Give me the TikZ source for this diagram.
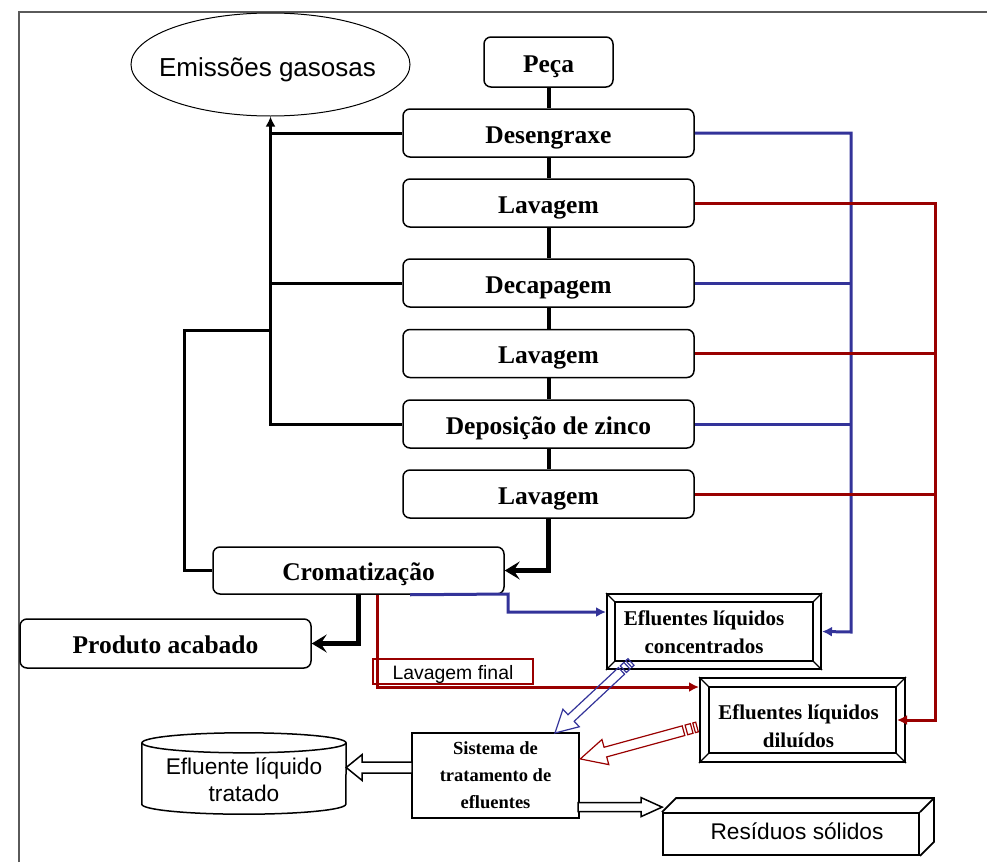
\documentclass[tikz,border=0pt]{standalone}
\usepackage{fontspec}
\setmainfont{Liberation Serif}
\newfontfamily\arialf{Liberation Sans}
\usetikzlibrary{arrows.meta,calc,shapes.geometric}
\definecolor{fblue}{HTML}{333399}
\definecolor{fred}{HTML}{990000}
\definecolor{fgray}{HTML}{5A5A5A}
\tikzset{
  proc/.style={draw, line width=1.5pt, rounded corners=7pt, minimum width=291pt,
    minimum height=48pt, inner sep=0pt, text height=20pt, text depth=0pt,
    font=\bfseries\fontsize{25.5}{28}\selectfont},
  flow/.style={line width=4pt},
  flowarr/.style={line width=5pt, -{Stealth[length=15pt,width=18pt,inset=6pt]}},
  gas/.style={line width=3pt},
  bl/.style={draw=fblue, line width=3pt},
  rd/.style={draw=fred, line width=3pt},
  tip/.style={-{Latex[length=10pt,width=10pt]}},
  bevel/.style={draw, line width=2pt, inner sep=0pt},
  serl/.style={align=center, inner sep=0pt, font=\bfseries\fontsize{21}{28}\selectfont},
  hollow/.style={draw, fill=white, line width=1.5pt, line join=miter},
}
\begin{document}
\begin{tikzpicture}[x=1pt,y=-1pt]
\useasboundingbox (0,0) rectangle (987,862);
% frame
\draw[fgray, line width=1.5pt] (19,862) -- (19,12) -- (987,12);

% nodes
\node[ellipse, draw, line width=1pt, minimum width=279pt, minimum height=103pt, inner sep=0pt] (emi) at (270.5,64.5) {};
\node[inner sep=0pt, text height=23pt, text depth=0pt, font=\arialf\fontsize{26}{30}\selectfont] (emit) at ($(emi.center)+(-3,0)$) {Emissões gasosas};
\node[proc, minimum width=129pt, minimum height=50pt] (pec) at (548.5,62) {Peça};
\node[proc] (des) at (548.5,133) {Desengraxe};
\node[proc] (lav1) at (548.5,203) {Lavagem};
\node[proc] (dec) at (548.5,283) {Decapagem};
\node[proc] (lav2) at (548.5,353.5) {Lavagem};
\node[proc] (dep) at (548.5,424) {Deposição de zinco};
\node[proc] (lav3) at (548.5,494) {Lavagem};
\node[proc, minimum height=47pt] (cro) at (358.5,570.5) {Cromatização};
\node[proc, minimum height=49pt] (pro) at (165.5,643.5) {Produto acabado};

% bevel boxes
\node[bevel, minimum width=214pt, minimum height=75pt] (concf) at (714,631.5) {};
\draw[line width=1.5pt] ($(concf.north west)+(9,9)$) rectangle ($(concf.south east)+(-9,-9)$);
\foreach \c/\dx/\dy in {north west/9/9, north east/-9/9, south west/9/-9, south east/-9/-9}
  \draw[line width=1.2pt] (concf.\c) -- ++(\dx,\dy);
\node[serl] (conc) at ($(concf.center)+(-10,1)$) {Efluentes líquidos\\concentrados};

\node[bevel, minimum width=205pt, minimum height=84pt] (dilf) at (802.5,720) {};
\draw[line width=1.5pt] ($(dilf.north west)+(10,10)$) rectangle ($(dilf.south east)+(-10,-10)$);
\foreach \c/\dx/\dy in {north west/10/10, north east/-10/10, south west/10/-10, south east/-10/-10}
  \draw[line width=1.2pt] (dilf.\c) -- ++(\dx,\dy);
\node[serl] (dil) at ($(dilf.center)+(-4,6)$) {Efluentes líquidos\\diluídos};

% sistema
\node[draw, line width=1.8pt, minimum width=167pt, minimum height=85pt, inner sep=0pt, align=center,
  font=\bfseries\fontsize{18.5}{27}\selectfont] (sis) at (495.5,775.5) {Sistema de\\tratamento de\\efluentes};

% cylinder
\node[minimum width=204pt, minimum height=81pt, inner sep=0pt] (cyl) at (244,773.5) {};
\draw[line width=1.5pt] ($(cyl.north west)+(0,10)$) -- ($(cyl.south west)+(0,-10)$)
  arc[start angle=180, end angle=0, x radius=102, y radius=10] -- ($(cyl.north east)+(0,10)$);
\draw[line width=1.5pt] ($(cyl.north)+(0,10)$) ellipse[x radius=102, y radius=10];
\node[align=center, inner sep=0pt, font=\arialf\fontsize{22.7}{27}\selectfont] (cylt) at ($(cyl.center)+(0,6.5)$) {Efluente líquido\\tratado};

% residuos
\node[draw, line width=1.8pt, minimum width=256pt, minimum height=42pt, inner sep=0pt,
  text height=14pt, text depth=4pt, font=\arialf\fontsize{22.7}{27}\selectfont] (res) at (791,834) {\hspace*{12pt}Resíduos sólidos};
\draw[line width=1.8pt, line join=miter] (res.north west) -- ++(14,-14) -- ($(res.north east)+(14,-14)$)
  -- ($(res.south east)+(14,-14)$) -- (res.south east);
\draw[line width=1.8pt] (res.north east) -- ++(14,-14);

% lavagem final label
\node[draw=fred, line width=1.2pt, minimum width=160pt, minimum height=25pt, inner sep=0pt,
  text height=15pt, text depth=0pt, font=\arialf\fontsize{19.4}{22}\selectfont] (lf) at (453,671.5) {Lavagem final};

% main flow
\foreach \a/\b in {pec/des, des/lav1, lav1/dec, dec/lav2, lav2/dep, dep/lav3}
  \draw[flow] (\a) -- (\b);
\draw[flowarr] (lav3.south) |- (cro.east);
\draw[flowarr] (cro.south) |- (pro.east);

% gaseous emissions
\draw[gas, tip] (dep.west) -| (emi.south);
\draw[gas] (des.west) -- (des.west -| emi.south);
\draw[gas] (dec.west) -- (dec.west -| emi.south);
\coordinate (jc) at (184,330);
\draw[gas] (cro.west) -| (jc) -- (jc -| emi.south);

% blue (concentrated)
\coordinate (bb) at (851,632);
\draw[bl, tip] (des.east) -| (bb) -- (concf.east);
\draw[bl] (dec.east) -- (dec.east -| bb);
\draw[bl] (dep.east) -- (dep.east -| bb);
\coordinate (cbs) at ($(cro.south)+(51.5,0)$);
\coordinate (cbk) at (508,594);
\draw[bl, tip] (cbs) -- (cbk) |- ($(concf.north west)+(0,19)$);

% red (diluted)
\coordinate (rb) at (935,720);
\draw[rd, tip, shorten >=-9pt] (lav1.east) -| (rb) -- (dilf.east);
\draw[rd] (lav2.east) -- (lav2.east -| rb);
\draw[rd] (lav3.east) -- (lav3.east -| rb);
\coordinate (crs) at ($(cro.south)+(18.5,0)$);
\draw[rd, tip] (crs) |- ($(dilf.north west)+(0,10)$);

% striped arrows to treatment
\coordinate (bt) at ($(concf.south west)+(25,-8)$);
\begin{scope}[shift={(bt)}, rotate=-136.95, fblue, line width=1.2pt]
  \draw (0,-4.5) rectangle (3,4.5);
  \draw (5.5,-4.5) rectangle (10.5,4.5);
  \draw[line join=miter] (13,-4.5) -- (82,-4.5) -- (82,-12) -- (104,0) -- (82,12) -- (82,4.5) -- (13,4.5) -- cycle;
\end{scope}
\coordinate (rt) at ($(dilf.west)+(-2,7)$);
\begin{scope}[shift={(rt)}, rotate=-164.7, fred, line width=1.2pt]
  \draw (0,-5) rectangle (3,5);
  \draw (5.5,-5) rectangle (11,5);
  \draw[line join=miter] (14,-5) -- (95,-5) -- (95,-13) -- (121,0) -- (95,13) -- (95,5) -- (14,5) -- cycle;
\end{scope}

% hollow block arrows
\coordinate (h1) at ($(cyl.east)+(0,-6)$);
\draw[hollow] (h1) -- ++(16,-13) -- ++(0,7.5) -- ++(50,0) -- ++(0,11) -- ++(-50,0) -- ++(0,7.5) -- cycle;
\coordinate (h2) at ($(res.north west)+(0,-5)$);
\draw[hollow] (h2) -- ++(-21,-9.5) -- ++(0,5) -- ++(-63,0) -- ++(0,9) -- ++(63,0) -- ++(0,5) -- cycle;
\end{tikzpicture}
\end{document}
